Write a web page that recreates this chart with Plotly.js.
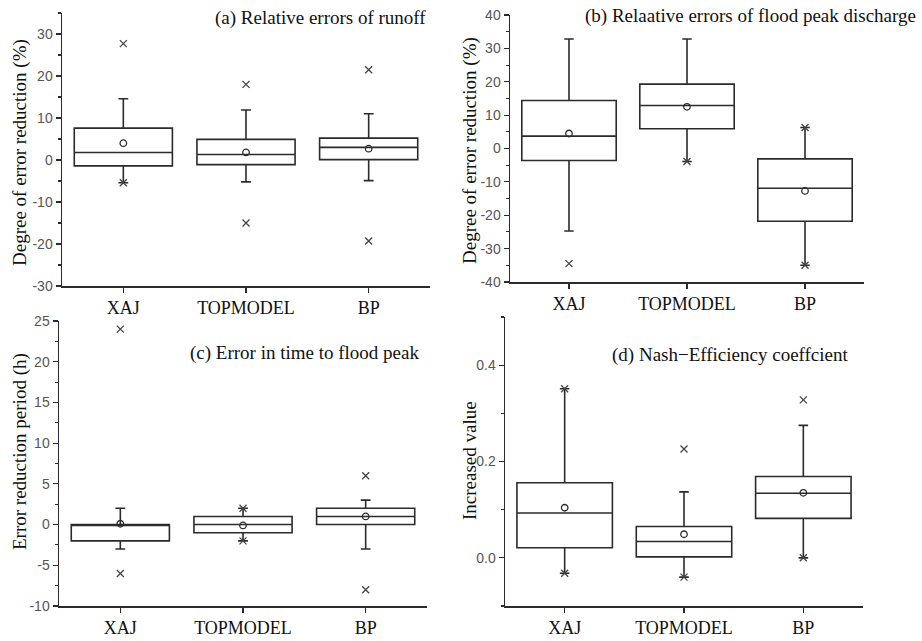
<!DOCTYPE html>
<html>
<head>
<meta charset="utf-8">
<script src="https://cdn.plot.ly/plotly-3.0.1.min.js"></script>
<style>html,body{margin:0;padding:0;background:#fff;}#chart{width:922px;height:641px;}</style>
</head>
<body>
<div id="chart"></div>
<script>
// ---------- data ----------
const models = ['XAJ', 'TOPMODEL', 'BP'];

// (a) Relative errors of runoff
const runoffQ1 = [-1.4, -1.1, 0.1];
const runoffMedian = [1.8, 1.3, 3.0];
const runoffQ3 = [7.6, 4.9, 5.2];
const runoffLow = [-5.4, -5.2, -4.9];
const runoffHigh = [14.6, 11.9, 11.0];
const runoffMean = [4.0, 1.8, 2.7];
const runoffOutX = ['XAJ', 'XAJ', 'TOPMODEL', 'TOPMODEL', 'BP', 'BP'];
const runoffOutY = [27.7, -5.4, 18.0, -15.0, 21.5, -19.3];

// (b) Relative errors of flood peak discharge
const peakQ1 = [-3.6, 5.9, -21.8];
const peakMedian = [3.7, 12.9, -11.9];
const peakQ3 = [14.4, 19.3, -3.1];
const peakLow = [-24.7, -3.9, -35.0];
const peakHigh = [32.8, 32.8, 6.3];
const peakMean = [4.5, 12.5, -12.7];
const peakOutX = ['XAJ', 'TOPMODEL', 'BP', 'BP'];
const peakOutY = [-34.5, -3.9, 6.3, -35.0];

// (c) Error in time to flood peak (h)
const timeQ1 = [-2, -1, 0];
const timeMedian = [0, 0, 1];
const timeQ3 = [0, 1, 2];
const timeLow = [-3, -2, -3];
const timeHigh = [2, 2, 3];
const timeMean = [0.1, -0.1, 1.0];
const timeOutX = ['XAJ', 'XAJ', 'TOPMODEL', 'TOPMODEL', 'BP', 'BP'];
const timeOutY = [24, -6, 2, -2, 6, -8];

// (d) Nash-Efficiency coefficient
const nseQ1 = [0.021, 0.002, 0.082];
const nseMedian = [0.093, 0.034, 0.134];
const nseQ3 = [0.156, 0.065, 0.169];
const nseLow = [-0.032, -0.040, 0.0];
const nseHigh = [0.351, 0.137, 0.275];
const nseMean = [0.104, 0.049, 0.135];
const nseOutX = ['XAJ', 'XAJ', 'TOPMODEL', 'TOPMODEL', 'BP', 'BP'];
const nseOutY = [0.351, -0.032, 0.226, -0.040, 0.328, 0.0];

// tick labels
const ticksA = [-30, -20, -10, 0, 10, 20, 30];
const ticksB = [-40, -30, -20, -10, 0, 10, 20, 30, 40];
const ticksC = [-10, -5, 0, 5, 10, 15, 20, 25];
const ticksD = [0.0, 0.2, 0.4];
const labelsA = ['-30', '-20', '-10', '0', '10', '20', '30'];
const labelsB = ['-40', '-30', '-20', '-10', '0', '10', '20', '30', '40'];
const labelsC = ['-10', '-5', '0', '5', '10', '15', '20', '25'];
const labelsD = ['0.0', '0.2', '0.4'];

// ---------- styling ----------
const lineCol = '#2b2b2b';
function boxTrace(q1, med, q3, lo, hi, xa, ya) {
  return {
    type: 'box', x: models, q1: q1, median: med, q3: q3,
    lowerfence: lo, upperfence: hi, xaxis: xa, yaxis: ya,
    width: 0.8, whiskerwidth: 0.1, boxpoints: false,
    line: {color: lineCol, width: 1.6}, fillcolor: 'rgba(255,255,255,0)',
    showlegend: false, hoverinfo: 'skip'
  };
}
function meanTrace(m, xa, ya) {
  return {type: 'scatter', mode: 'markers', x: models, y: m, xaxis: xa, yaxis: ya,
    marker: {symbol: 'circle-open', size: 6.5, color: lineCol, line: {width: 1.3}},
    showlegend: false, hoverinfo: 'skip'};
}
function outTrace(xs, ys, xa, ya) {
  return {type: 'scatter', mode: 'markers', x: xs, y: ys, xaxis: xa, yaxis: ya,
    marker: {symbol: 'x-thin-open', size: 7, color: '#444', line: {width: 1.3, color: '#444'}},
    showlegend: false, hoverinfo: 'skip'};
}

const data = [
  boxTrace(runoffQ1, runoffMedian, runoffQ3, runoffLow, runoffHigh, 'x', 'y'),
  outTrace(runoffOutX, runoffOutY, 'x', 'y'),
  meanTrace(runoffMean, 'x', 'y'),
  boxTrace(peakQ1, peakMedian, peakQ3, peakLow, peakHigh, 'x2', 'y2'),
  outTrace(peakOutX, peakOutY, 'x2', 'y2'),
  meanTrace(peakMean, 'x2', 'y2'),
  boxTrace(timeQ1, timeMedian, timeQ3, timeLow, timeHigh, 'x3', 'y3'),
  outTrace(timeOutX, timeOutY, 'x3', 'y3'),
  meanTrace(timeMean, 'x3', 'y3'),
  boxTrace(nseQ1, nseMedian, nseQ3, nseLow, nseHigh, 'x4', 'y4'),
  outTrace(nseOutX, nseOutY, 'x4', 'y4'),
  meanTrace(nseMean, 'x4', 'y4')
];

const W = 922, H = 641;
function xAxis(x0, x1, anchor) {
  return {
    domain: [x0 / W, x1 / W], anchor: anchor, type: 'category',
    categoryorder: 'array', categoryarray: models, range: [-0.5, 2.5],
    showline: true, linecolor: lineCol, linewidth: 1.5,
    ticks: 'outside', ticklen: 5, tickcolor: lineCol, tickwidth: 1.2,
    showgrid: false, zeroline: false,
    tickfont: {family: 'Liberation Serif, Times New Roman, serif', size: 18, color: '#111'}
  };
}
function yAxis(yTop, yBot, anchor, range, tv, tt, minorDt) {
  return {
    domain: [1 - yBot / H, 1 - yTop / H], anchor: anchor, range: range,
    tickmode: 'array', tickvals: tv, ticktext: tt,
    showline: true, linecolor: lineCol, linewidth: 1.5,
    ticks: 'outside', ticklen: 5, tickcolor: lineCol, tickwidth: 1.2,
    minor: {ticks: 'outside', ticklen: 3, tickcolor: lineCol, tickwidth: 1.1, dtick: minorDt, showgrid: false},
    showgrid: false, zeroline: false,
    tickfont: {family: 'Liberation Sans, Arial, sans-serif', size: 14, color: '#555'}
  };
}

const serif = 'Liberation Serif, Times New Roman, serif';
function ann(text, xpx, ypx, opts) {
  return Object.assign({
    text: text, xref: 'paper', yref: 'paper', x: xpx / W, y: 1 - ypx / H,
    showarrow: false, font: {family: serif, size: 19, color: '#111'}
  }, opts || {});
}

const layout = {
  width: W, height: H,
  margin: {l: 0, r: 0, t: 0, b: 0},
  paper_bgcolor: '#fff', plot_bgcolor: 'rgba(0,0,0,0)',
  xaxis: xAxis(62, 430, 'y'),
  yaxis: yAxis(13, 286, 'x', [-30, 35], ticksA, labelsA, 5),
  xaxis2: xAxis(510, 864, 'y2'),
  yaxis2: yAxis(15, 282, 'x2', [-40, 40], ticksB, labelsB, 5),
  xaxis3: xAxis(59, 427, 'y3'),
  yaxis3: yAxis(321, 606, 'x3', [-10, 25], ticksC, labelsC, 2.5),
  xaxis4: xAxis(505, 863, 'y4'),
  yaxis4: yAxis(317, 606, 'x4', [-0.1, 0.5], ticksD, labelsD, 0.1),
  annotations: [
    ann('(a) Relative errors of runoff', 428, 18, {xanchor: 'right', yanchor: 'middle'}),
    ann('(b) Relaative errors of flood peak discharge', 918, 16, {xanchor: 'right', yanchor: 'middle'}),
    ann('(c) Error in time to flood peak', 421, 353, {xanchor: 'right', yanchor: 'middle'}),
    ann('(d) Nash\u2212Efficiency coeffcient', 851, 355, {xanchor: 'right', yanchor: 'middle'}),
    ann('Degree of error reduction (%)', 20, 153, {textangle: -90, xanchor: 'center', yanchor: 'middle'}),
    ann('Degree of error reduction (%)', 470, 151, {textangle: -90, xanchor: 'center', yanchor: 'middle'}),
    ann('Error reduction period (h)', 20, 452, {textangle: -90, xanchor: 'center', yanchor: 'middle'}),
    ann('Increased value', 469, 460, {textangle: -90, xanchor: 'center', yanchor: 'middle'})
  ]
};

Plotly.newPlot('chart', data, layout, {staticPlot: true, displayModeBar: false});
</script>
</body>
</html>
